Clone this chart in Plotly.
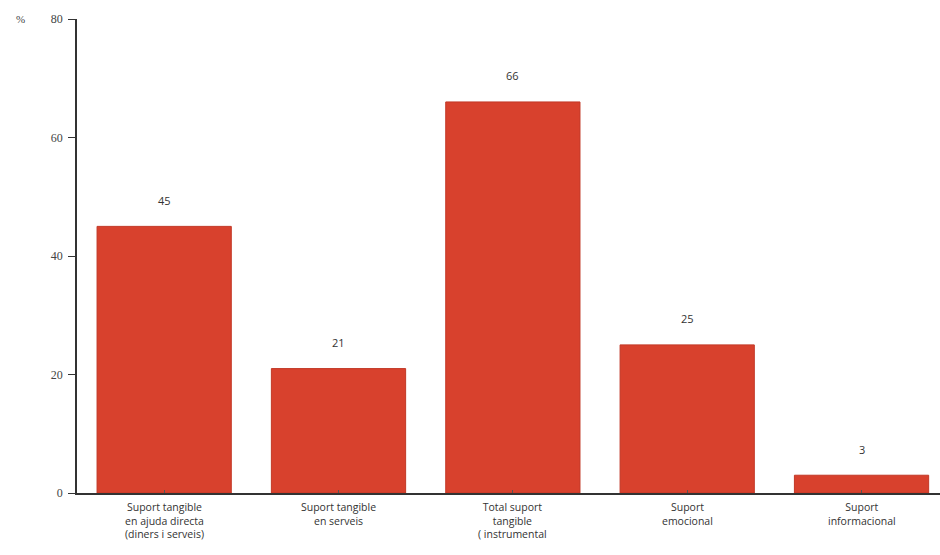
import plotly.graph_objects as go

categories = [
    "Suport tangible<br>en ajuda directa<br>(diners i serveis)",
    "Suport tangible<br>en serveis",
    "Total suport<br>tangible<br>( instrumental",
    "Suport<br>emocional",
    "Suport<br>informacional",
]
values = [45, 21, 66, 25, 3]
y_ticks = [0, 20, 40, 60, 80]

bar_color = "#d8412d"
text_color = "#333333"

xs = list(range(len(categories)))

fig = go.Figure(
    go.Bar(
        x=xs,
        y=values,
        width=0.77,
        marker=dict(color=bar_color, line=dict(color="#c23826", width=1)),
        hoverinfo="x+y",
    )
)

annotations = []

# value labels above each bar
for x, v in zip(xs, values):
    annotations.append(
        dict(
            x=x, y=v, xref="x", yref="y",
            text=str(v), showarrow=False,
            yanchor="middle", yshift=26,
            font=dict(family="Open Sans, sans-serif", size=11, color=text_color),
        )
    )

# category labels under the axis
for x, cat in zip(xs, categories):
    annotations.append(
        dict(
            x=x, y=0, xref="x", yref="paper",
            text=cat, showarrow=False,
            yanchor="top", yshift=-6, borderpad=0,
            font=dict(family="Open Sans, sans-serif", size=10.5, color=text_color),
        )
    )

# unit label next to the top tick
annotations.append(
    dict(
        text="%", xref="paper", yref="y", x=0, y=80,
        xanchor="right", yanchor="middle", xshift=-50,
        showarrow=False,
        font=dict(family="Liberation Serif, serif", size=11, color="#444444"),
    )
)

fig.update_layout(
    width=940,
    height=555,
    margin=dict(l=77, r=0, t=19, b=62),
    paper_bgcolor="white",
    plot_bgcolor="white",
    showlegend=False,
    xaxis=dict(
        range=[-0.5, 4.45],
        tickmode="array",
        tickvals=xs,
        ticktext=[""] * len(xs),
        tickson="boundaries",
        ticks="inside",
        ticklen=3,
        tickcolor="#555555",
        showline=True,
        linecolor="#333333",
        linewidth=1.5,
        showgrid=False,
        zeroline=False,
    ),
    yaxis=dict(
        range=[0, 80],
        tickvals=y_ticks,
        ticks="outside",
        ticklen=7,
        tickcolor="#333333",
        showline=True,
        linecolor="#333333",
        linewidth=1.5,
        showgrid=False,
        zeroline=False,
        tickfont=dict(family="Liberation Serif, serif", size=12, color="#444444"),
        ticklabelstandoff=3,
    ),
    annotations=annotations,
)

fig.write_html("out.html")
